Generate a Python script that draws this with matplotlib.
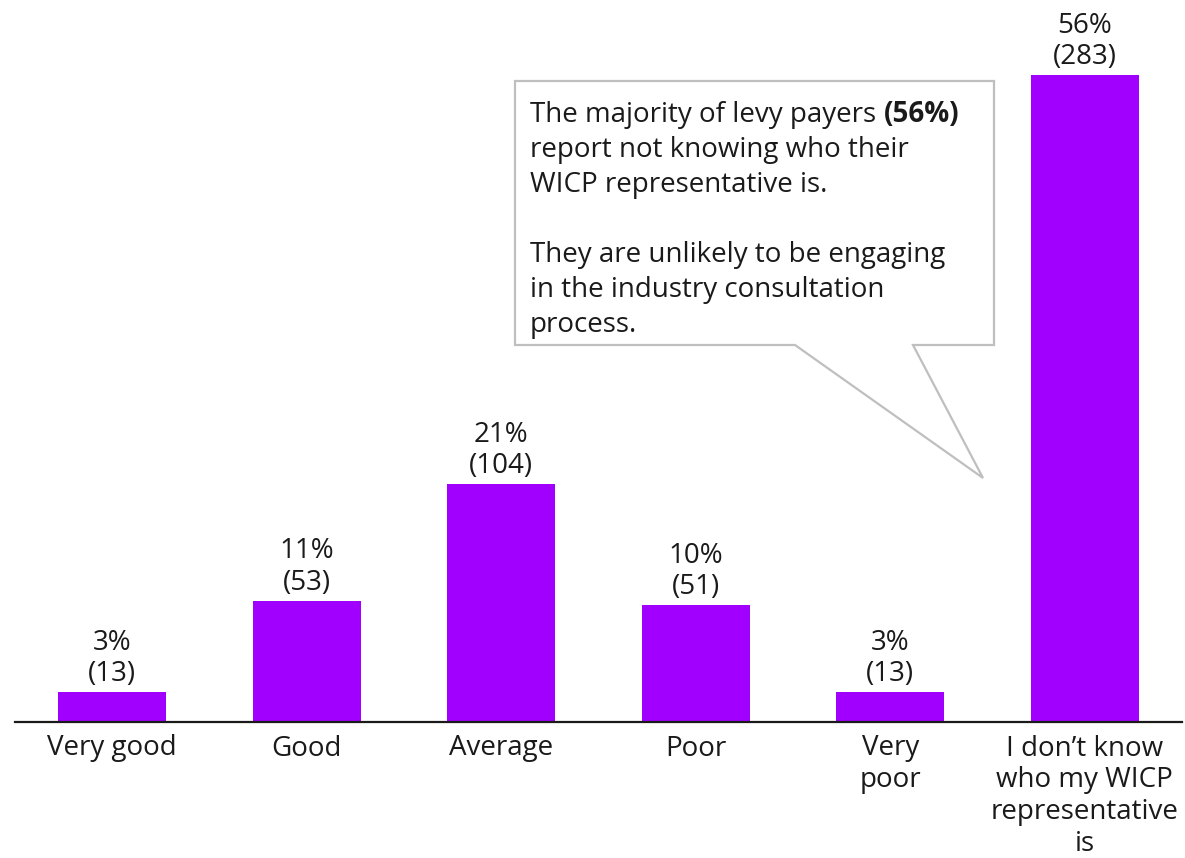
import matplotlib
matplotlib.use("Agg")
import matplotlib.pyplot as plt
from matplotlib.patches import Polygon

# Survey responses
categories = ["Very good", "Good", "Average", "Poor", "Very\npoor",
              "I don\u2019t know\nwho my WICP\nrepresentative\nis"]
counts = [13, 53, 104, 51, 13, 283]
percents = [3, 11, 21, 10, 3, 56]

BAR_COLOR = "#A100FF"
FONT = ["Open Sans", "DejaVu Sans"]
FS = 20

plt.rcParams["font.family"] = FONT

W, H = 1185, 858
fig = plt.figure(figsize=(W / 100, H / 100), dpi=100)

# Axes placed in pixel terms: baseline at y=722, x from 15 to 1182
ax_left, ax_right = 14.7, 1182
ax_top, ax_base = 0, 722
ax = fig.add_axes([ax_left / W, 1 - ax_base / H,
                   (ax_right - ax_left) / W, (ax_base - ax_top) / H])

x = list(range(len(categories)))
ax.bar(x, counts, width=0.555, color=BAR_COLOR, zorder=2)

ax.set_xlim(-0.5, len(categories) - 0.5)
ax.set_ylim(0, 316)

for xi, c, p in zip(x, counts, percents):
    ax.annotate(f"{p}%\n({c})", xy=(xi, c), xytext=(0, 3),
                textcoords="offset points", ha="center", va="bottom",
                fontsize=FS, color="#1a1a1a", linespacing=1.17)

for s in ["left", "right", "top"]:
    ax.spines[s].set_visible(False)
ax.spines["bottom"].set_color("#1a1a1a")
ax.spines["bottom"].set_linewidth(1.6)
ax.spines["bottom"].set_zorder(3)
ax.set_yticks([])
ax.set_xticks(x)
ax.set_xticklabels(categories, fontsize=FS, color="#1a1a1a", linespacing=1.19)
ax.tick_params(axis="x", length=0, pad=9)


def px(xp, yp):
    return (xp / W, 1 - yp / H)


# Callout box with pointer towards the last bar
outline = [px(515, 81), px(994, 81), px(994, 345), px(913, 345),
           px(983, 478), px(795, 345), px(515, 345)]
fig.patches.append(Polygon(outline, closed=True, transform=fig.transFigure,
                           facecolor="white", edgecolor="#BFBFBF",
                           linewidth=1.6, zorder=5))

line_h = 35
tx, ty0 = px(530, 122)
first = fig.text(tx, ty0, "The majority of levy payers ", fontsize=FS,
                 color="#1a1a1a", va="baseline", ha="left", zorder=6)
fig.canvas.draw()
bb = first.get_window_extent(renderer=fig.canvas.get_renderer())
fig.text(bb.x1 / W, ty0, "(56%)", fontsize=FS, fontweight="bold",
         color="#1a1a1a", va="baseline", ha="left", zorder=6)

rest = ["report not knowing who their",
        "WICP representative is.",
        "",
        "They are unlikely to be engaging",
        "in the industry consultation",
        "process."]
for i, line in enumerate(rest, start=1):
    if line:
        fig.text(tx, 1 - (122 + i * line_h) / H, line, fontsize=FS,
                 color="#1a1a1a", va="baseline", ha="left", zorder=6)

fig.savefig("out.png", dpi=100)
